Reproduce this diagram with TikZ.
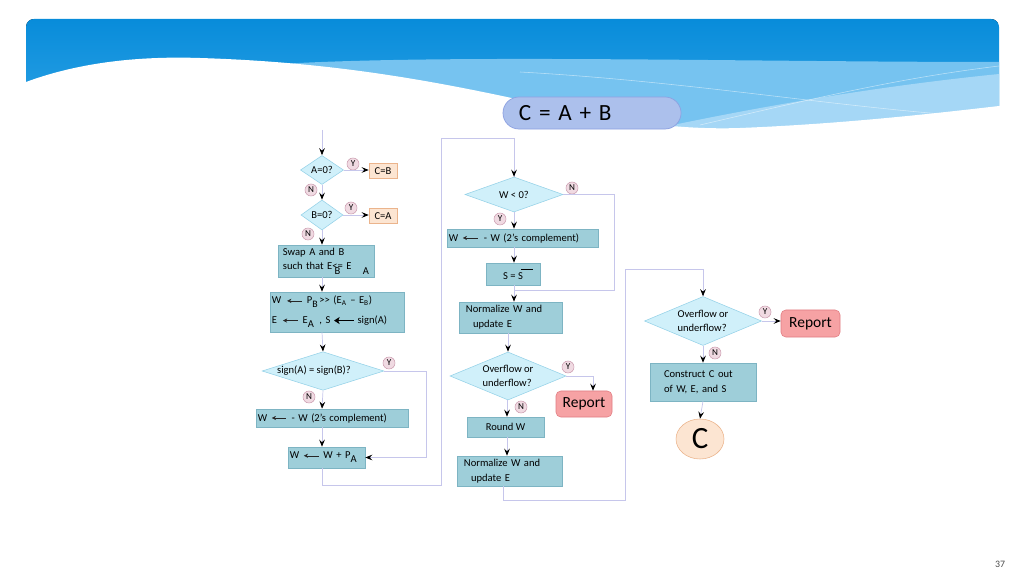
\documentclass[tikz,border=0pt]{standalone}
\usepackage{fontspec}
\setmainfont{Carlito}
\usetikzlibrary{shapes.geometric,arrows.meta}
\definecolor{boxfill}{RGB}{158,206,217}
\definecolor{boxdraw}{RGB}{125,180,195}
\definecolor{diafill}{RGB}{208,240,250}
\definecolor{diadraw}{RGB}{150,210,232}
\definecolor{peachfill}{RGB}{252,229,210}
\definecolor{peachdraw}{RGB}{235,180,140}
\definecolor{repfill}{RGB}{246,162,164}
\definecolor{repdraw}{RGB}{225,125,130}
\definecolor{ynfill}{RGB}{240,218,226}
\definecolor{yndraw}{RGB}{205,160,178}
\definecolor{linec}{RGB}{198,198,235}
\definecolor{titlefill}{RGB}{172,192,236}
\definecolor{titledraw}{RGB}{140,160,225}
\definecolor{bannerTop}{RGB}{8,140,218}
\definecolor{bannerBot}{RGB}{55,168,232}
\definecolor{bandA}{RGB}{118,195,240}
\definecolor{bandB}{RGB}{165,215,246}
\newcommand\larr[1]{\tikz[baseline=-0.6ex]\draw[black!85,line width=0.3pt,{Stealth[length=3pt,width=3pt,inset=1pt]}-] (0,0)--(#1,0);}
\newcommand\thickarr[1]{\tikz[baseline=-0.6ex]\draw[black,line width=1pt,{Stealth[length=4pt,width=5pt,inset=1pt]}-] (0,0)--(#1,0);}
\begin{document}
\begin{tikzpicture}[x=0.025cm,y=-0.025cm,
  every node/.style={font=\fontsize{7.5}{10.5}\selectfont},
  pbox/.style={draw=boxdraw, fill=boxfill, line width=0.4pt, inner ysep=0pt, inner xsep=0.05cm, align=left},
  peach/.style={draw=peachdraw, fill=peachfill, line width=0.4pt, inner sep=0pt, minimum width=0.7cm, minimum height=0.375cm},
  dia/.style={diamond, draw=diadraw, fill=diafill, line width=0.4pt, inner sep=0pt},
  yn/.style={circle, draw=yndraw, fill=ynfill, line width=0.4pt, inner sep=0pt, minimum size=0.3cm, font=\fontsize{6.5}{7}\selectfont},
  report/.style={draw=repdraw, fill=repfill, line width=0.4pt, rounded corners=0.12cm, inner sep=0pt, font=\fontsize{11}{12}\selectfont},
  conn/.style={draw=linec, line width=0.5pt, -{Stealth[length=5pt,width=4pt,inset=1.8pt,color=black]}},
  plain/.style={draw=linec, line width=0.5pt}]
\useasboundingbox (0,0) rectangle (1024,576);
% banner
\begin{scope}
\clip[rounded corners=0.2cm] (26,19) rectangle (999,200);
\fill[top color=bannerTop,bottom color=bannerBot] (26,19) rectangle (999,150);
\fill[bandA] (280,64) .. controls (450,54) and (750,62) .. (999,62) -- (999,150) -- (280,150) -- cycle;
\fill[bandB] (640,132) .. controls (760,106) and (880,86) .. (999,74) -- (999,150) -- cycle;
\draw[white,opacity=0.5,line width=0.4pt] (520,72) .. controls (700,82) and (850,110) .. (999,118);
\draw[white,opacity=0.5,line width=0.4pt] (700,125) .. controls (820,97) and (900,78) .. (999,66);
\end{scope}
\fill[white] (20,84) -- (26,82) .. controls (80,62) and (140,56) .. (200,58) .. controls (330,62) and (430,80) .. (530,102) .. controls (620,122) and (680,130) .. (740,128) .. controls (840,124) and (930,114) .. (999,106) -- (1005,105) -- (1005,210) -- (20,210) -- cycle;
% title
\node[draw=titledraw, fill=titlefill, line width=0.5pt, rounded corners=0.4cm, minimum width=4.45cm, minimum height=0.8cm, inner xsep=0.4cm, text width=3.65cm, align=left, font=\fontsize{16.5}{18}\selectfont] (title) at (592,113) {C = A + B};
\node[font=\fontsize{7}{8}\selectfont, text=black!70] (pg) at (1000,564) {37};

% ---------------- left column
\coordinate (start) at (322,130);
\coordinate (cA) at (322,0);
\node[dia, minimum width=1.075cm, minimum height=0.725cm, aspect=1.48] (d1) at (322,170) {A=0?};
\node[peach] (cb) at (383,171) {C=B};
\node[dia, minimum width=1.05cm, minimum height=0.75cm, aspect=1.4] (d2) at (322,215) {B=0?};
\node[peach] (ca) at (383,216) {C=A};
\node[pbox, minimum width=2.4cm, minimum height=0.8cm, inner xsep=0.125cm, text width=2.15cm] (swap) at (326,261)
  {Swap A and B\\\mbox{such~that~E\rlap{\raisebox{-3pt}{\hspace{1.5pt}B}}<=~E\hspace{8pt}\raisebox{-3pt}{A}}};
\node[pbox, minimum width=3.35cm, minimum height=1.0cm, text width=3.25cm, font=\fontsize{7.5}{14}\selectfont] (b2) at (337,312)
  {W\hspace{4pt}\larr{0.38cm}\hspace{3pt}P\raisebox{-2.5pt}{\scriptsize B}\,>\kern0pt> (E\textsubscript{A} – E\textsubscript{B})\\
   E\hspace{4pt}\larr{0.38cm}\hspace{3pt}E\raisebox{-3pt}{A}\hspace{4pt}, S\hspace{2pt}\thickarr{0.5cm}\hspace{2pt}sign(A)};
\node[dia, minimum width=3.0cm, minimum height=0.95cm, aspect=3.16] (d3) at (323,371) {sign(A) = sign(B)?\hspace*{0.45cm}};
\node[pbox, minimum width=3.8cm, minimum height=0.45cm, text width=3.7cm] (b4) at (332,418)
  {W\hspace{3pt}\larr{0.35cm}\hspace{4pt}- W (2’s complement)};
\node[pbox, minimum width=1.925cm, minimum height=0.525cm, text width=1.825cm] (b5) at (326.5,457.5)
  {W\hspace{3pt}\larr{0.38cm}\hspace{3pt}W + P\raisebox{-3pt}{A}};
\node[yn] (y1) at (353,164) {Y};
\node[yn] (n1) at (311,190) {N};
\node[yn] (y2) at (351,208) {Y};
\node[yn] (n2) at (308,234) {N};
\node[yn] (y3) at (389,363) {Y};
\node[yn] (n3) at (309,397) {N};
\coordinate (yr) at (426,0);
\coordinate (l1) at (441,485);
\coordinate (l2) at (441,138);

\draw[conn] (start) -- (d1.north);
\draw[conn] (d1.east) -- (d1.east -| cb.west);
\draw[conn] (d1.south) -- (d2.north);
\draw[conn] (d2.east) -- (d2.east -| ca.west);
\draw[conn] (d2.south) -- (cA |- swap.north);
\draw[conn] (cA |- swap.south) -- (cA |- b2.north);
\draw[conn] (cA |- b2.south) -- (d3.north);
\draw[conn] (d3.south) -- (cA |- b4.north);
\draw[conn] (cA |- b4.south) -- (cA |- b5.north);
\draw[conn] (d3.east) -- (d3.east -| yr) |- (b5.east);

% ---------------- middle column
\coordinate (cB) at (514,0);
\node[dia, minimum width=2.45cm, minimum height=0.875cm, aspect=2.8] (d4) at (514,194.5) {W < 0?};
\node[pbox, minimum width=3.775cm, minimum height=0.45cm, text width=3.675cm] (m1) at (522.5,238)
  {W\hspace{3pt}\larr{0.38cm}\hspace{4pt}- W (2’s complement)};
\node[pbox, minimum width=1.35cm, minimum height=0.55cm, inner xsep=0pt, align=center] (sb) at (513,274)
  {S = S\rlap{\hspace{-1pt}\raisebox{7pt}{\rule{8pt}{0.3pt}}}};
\node[pbox, minimum width=2.575cm, minimum height=0.775cm, inner xsep=0.175cm, text width=2.225cm] (nm1) at (510.5,317.5)
  {Normalize W and\\\hspace*{5pt}update E};
\node[dia, minimum width=2.9cm, minimum height=1.2cm, aspect=2.42, align=left] (d5) at (508,376) {Overflow or\\underflow?};
\node[report, minimum width=1.4cm, minimum height=0.65cm] (rep1) at (584,404) {Report};
\node[pbox, minimum width=1.925cm, minimum height=0.5cm, align=center] (rw) at (505.5,427) {Round W};
\node[pbox, minimum width=2.625cm, minimum height=0.75cm, inner xsep=0.175cm, text width=2.275cm] (nm2) at (509.5,471)
  {Normalize W and\\\hspace*{5pt}update E};
\node[yn] (n4) at (572,188) {N};
\node[yn] (y4) at (500,219) {Y};
\node[yn] (y5) at (568,367) {Y};
\node[yn] (n5) at (521,407) {N};
\coordinate (nr) at (614,290);
\coordinate (ry) at (593,0);
\coordinate (cM) at (507,0);
\coordinate (cN) at (503,0);
\coordinate (l3) at (503,500);
\coordinate (l4) at (625,500);
\coordinate (l5) at (625,269);

\draw[plain] (cA |- b5.south) |- (l1) -- (l2) -| (d4.north);
\draw[conn] (l2 -| d4.north) -- (d4.north);
\draw[conn] (d4.south) -- (d4.south |- m1.north);
\draw[conn] (d4.south |- m1.south) -- (d4.south |- sb.north);
\draw[plain] (cB |- sb.south) -- (cB |- nr);
\draw[conn] (d4.east) -- (d4.east -| nr) -- (nr) -| (cB |- nm1.north);
\draw[conn] (d5.north |- nm1.south) -- (d5.north);
\draw[conn] (d5.east) -| (ry |- rep1.north);
\draw[conn] (cM |- d5.south) -- (cM |- rw.north);
\draw[conn] (cM |- rw.south) -- (cM |- nm2.north);

% ---------------- right column
\node[dia, minimum width=2.925cm, minimum height=1.225cm, aspect=2.39, align=left] (d6) at (703,321) {Overflow or\\underflow?};
\node[report, minimum width=1.475cm, minimum height=0.675cm] (rep2) at (810.5,323.5) {Report};
\node[pbox, minimum width=2.65cm, minimum height=0.95cm, inner xsep=0.35cm, text width=1.95cm] (cons) at (703,382)
  {Construct C out\\of W, E, and S};
\node[ellipse, draw=peachdraw, fill=peachfill, line width=0.4pt, minimum width=1.2cm, minimum height=1.0cm, inner sep=0pt, font=\fontsize{22}{24}\selectfont] (cc) at (700,439) {C};
\node[yn] (y6) at (765,312) {Y};
\node[yn] (n6) at (715,353) {N};

\draw[plain] (cN |- nm2.south) -- (l3) -- (l4) -- (l5) -| (d6.north);
\draw[conn] (l5 -| d6.north) -- (d6.north);
\draw[conn] (d6.east) -- (d6.east -| rep2.west);
\draw[conn] (d6.south) -- (d6.south |- cons.north);
\draw[conn] (d6.south |- cons.south) -- (cc.north);
\end{tikzpicture}
\end{document}
